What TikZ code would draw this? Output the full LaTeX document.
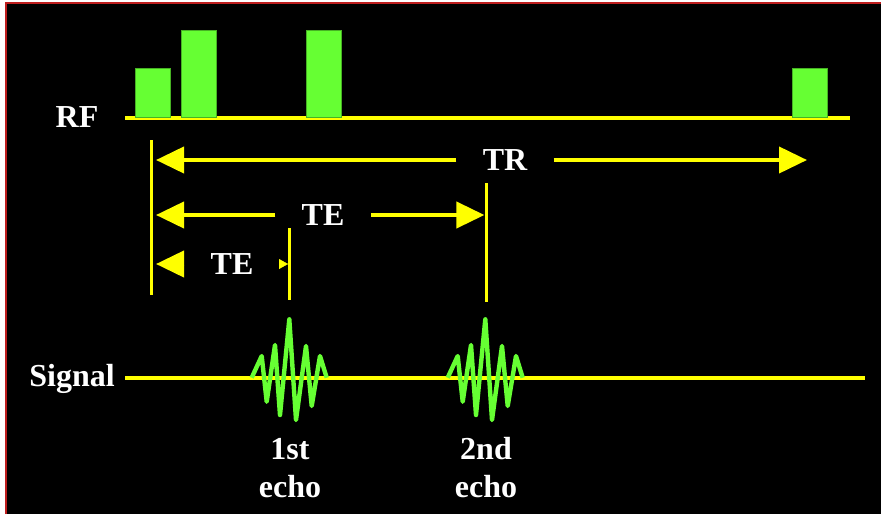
\documentclass[tikz,border=0pt]{standalone}
\usepackage{fontspec}
\setmainfont{Liberation Serif}
\usetikzlibrary{arrows.meta}
\definecolor{pulsegreen}{RGB}{102,255,51}
\definecolor{lineyellow}{RGB}{255,255,0}
\definecolor{framered}{RGB}{190,30,30}
\begin{document}
\begin{tikzpicture}[x=0.5pt,y=-0.5pt,
    pulse/.style={fill=pulsegreen, draw=pulsegreen!70!black, line width=0.4pt},
    axisline/.style={draw=lineyellow, line width=1.7pt},
    marker/.style={draw=lineyellow, line width=1.5pt},
    timearrow/.style={draw=lineyellow, line width=2pt, shorten >=2.5pt, -{Triangle[length=14pt,width=13pt]}},
    tinyarrow/.style={draw=lineyellow, line width=0.1pt, shorten >=0.5pt, -{Triangle[length=4.5pt,width=5pt]}},
    echo/.style={draw=pulsegreen, line width=2.2pt, line join=round},
    lbl/.style={text=white, font=\fontsize{16}{19}\bfseries\selectfont, inner sep=13pt, align=center}]
    \useasboundingbox (0,0) rectangle (881,514);
    \fill[white] (0,0) rectangle (881,514);
    \fill[black] (5,2) rectangle (881,514);
    \draw[framered, line width=1.2pt] (6,514) -- (6,3) -- (881,3);
    % RF line and pulses
    \draw[axisline] (125,118) -- (850,118);
    \foreach \x/\h in {135/68, 181/30, 306/30, 792/68}
      \draw[pulse] (\x,117) rectangle (\x+35,\h);
    \node[lbl, inner sep=0pt] (rf) at (77,117) {RF};
    % timing markers
    \coordinate (v1top) at (151,140); \coordinate (v1bot) at (151,295);
    \coordinate (v2top) at (289,228); \coordinate (v2bot) at (289,300);
    \coordinate (v3top) at (486,183); \coordinate (v3bot) at (486,302);
    \draw[marker] (v1top) -- (v1bot);
    \draw[marker] (v2top) -- (v2bot);
    \draw[marker] (v3top) -- (v3bot);
    \node[lbl] (tr) at (505,160) {TR};
    \coordinate (trend) at (812,160);
    \draw[timearrow] (tr.west) -- (v1top |- tr.west);
    \draw[timearrow] (tr.east) -- (trend);
    \node[lbl] (te2) at (323,215) {TE};
    \draw[timearrow] (te2.west) -- (v1top |- te2.west);
    \draw[timearrow, shorten >=0.8pt] (te2.east) -- (v3top |- te2.east);
    \node[lbl] (te1) at (232,264) {TE};
    \draw[timearrow] (te1.west) -- (v1top |- te1.west);
    \draw[tinyarrow] (te1.east) -- (v2top |- te1.east);
    % signal line and echoes
    \node[lbl, inner sep=0pt] (sig) at (72,379) {Signal};
    \draw[axisline] (125,378) -- (865,378);
    \foreach \d/\n in {0/1st, 196/2nd} {
      \draw[echo] (251.7+\d,377.7) -- (261.7+\d,356) -- (266.7+\d,401.7) -- (275+\d,345)
        -- (280+\d,415) -- (289.3+\d,319.3) -- (296+\d,420) -- (306+\d,346)
        -- (311.7+\d,406) -- (320+\d,356) -- (326.7+\d,377.7);
      \node[lbl, inner sep=0pt] (echo\n) at (290+\d,468) {\n\\echo};
    }
\end{tikzpicture}
\end{document}
